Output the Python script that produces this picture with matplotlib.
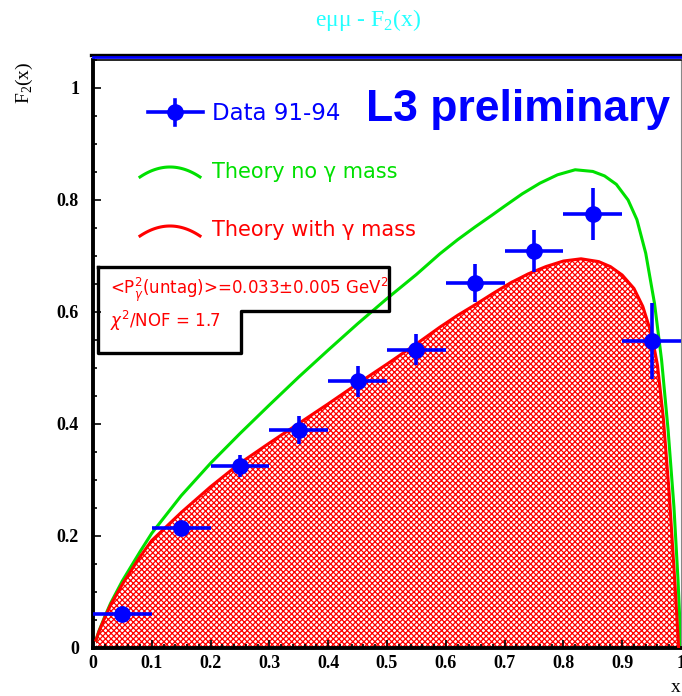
import numpy as np
import matplotlib.pyplot as plt
from matplotlib.lines import Line2D
from matplotlib.ticker import MultipleLocator

# measured F2 of the photon (1991-94 data)
x_bin = [0.05, 0.15, 0.25, 0.35, 0.45, 0.55, 0.65, 0.75, 0.85, 0.95]
x_halfwidth = [0.05, 0.05, 0.05, 0.05, 0.05, 0.05, 0.05, 0.05, 0.05, 0.05]
f2_data = [0.061, 0.214, 0.325, 0.390, 0.476, 0.533, 0.652, 0.709, 0.775, 0.548]
f2_err = [0.008, 0.012, 0.020, 0.025, 0.027, 0.028, 0.034, 0.037, 0.046, 0.068]

# QED prediction, massless target photon
x_nomass = [0.005, 0.01, 0.02, 0.03, 0.05, 0.08, 0.10, 0.15, 0.20, 0.25, 0.30,
            0.35, 0.40, 0.45, 0.50, 0.55, 0.59, 0.62, 0.65, 0.68, 0.70, 0.73,
            0.76, 0.79, 0.82, 0.85, 0.87, 0.89, 0.91, 0.925, 0.94, 0.955, 0.967,
            0.978, 0.988, 0.995, 1.0]
f2_nomass = [0.014, 0.030, 0.056, 0.080, 0.120, 0.172, 0.205, 0.272, 0.330, 0.383,
             0.434, 0.484, 0.532, 0.579, 0.624, 0.667, 0.704, 0.729, 0.752, 0.774,
             0.789, 0.811, 0.830, 0.845, 0.854, 0.851, 0.843, 0.828, 0.800, 0.765,
             0.705, 0.615, 0.514, 0.390, 0.252, 0.120, 0.0]

# QED prediction including the target photon virtuality
x_mass = [0.005, 0.01, 0.02, 0.03, 0.05, 0.08, 0.10, 0.15, 0.20, 0.25, 0.30,
          0.35, 0.40, 0.45, 0.50, 0.55, 0.59, 0.62, 0.65, 0.68, 0.71, 0.74,
          0.77, 0.80, 0.83, 0.86, 0.88, 0.90, 0.92, 0.935, 0.95, 0.96, 0.97,
          0.98, 0.99, 0.996]
f2_mass = [0.014, 0.029, 0.054, 0.077, 0.114, 0.163, 0.192, 0.242, 0.288, 0.330,
           0.366, 0.401, 0.436, 0.472, 0.507, 0.543, 0.573, 0.594, 0.613, 0.633,
           0.652, 0.668, 0.681, 0.691, 0.695, 0.690, 0.681, 0.666, 0.642, 0.610,
           0.560, 0.505, 0.410, 0.275, 0.110, 0.0]

x_ticks = [0, 0.1, 0.2, 0.3, 0.4, 0.5, 0.6, 0.7, 0.8, 0.9, 1.0]
x_ticklabels = ['0', '0.1', '0.2', '0.3', '0.4', '0.5', '0.6', '0.7', '0.8', '0.9', '1']
y_ticks = [0, 0.2, 0.4, 0.6, 0.8, 1.0]
y_ticklabels = ['0', '0.2', '0.4', '0.6', '0.8', '1']

W, H = 682, 696
plt.rcParams['hatch.linewidth'] = 0.9
plt.rcParams['mathtext.fontset'] = 'custom'
plt.rcParams['mathtext.rm'] = 'Liberation Serif'
plt.rcParams['mathtext.sf'] = 'DejaVu Sans'
plt.rcParams['mathtext.it'] = 'DejaVu Sans:italic'

fig = plt.figure(figsize=(W / 100, H / 100), dpi=100)
ax = fig.add_axes([93 / W, 48 / H, 588 / W, 588 / H])


def axfrac(px, py):
    # pixel position on the canvas -> axes fraction
    return (px - 93) / 588, (648 - py) / 588


# hatched band under the massive-photon curve
ax.fill_between(x_mass, 0, f2_mass, facecolor='white', edgecolor='#ff0000',
                hatch='xxxxxx', linewidth=0, zorder=1)
ax.plot(x_mass, f2_mass, color='#ff0000', lw=2.2, zorder=3)
ax.plot(x_nomass, f2_nomass, color='#00e000', lw=2.2, zorder=2)

ax.errorbar(x_bin, f2_data, xerr=x_halfwidth, yerr=f2_err, fmt='o',
            color='#0000ff', ms=11, elinewidth=2.6, capsize=0, zorder=5,
            clip_on=False)

# axes styling
for side in ['left', 'bottom']:
    ax.spines[side].set_linewidth(2.8)
ax.spines['top'].set_linewidth(1.2)
ax.spines['right'].set_linewidth(0.8)
ax.spines['right'].set_color('#888888')

ax.set_xticks(x_ticks)
ax.set_xticklabels(x_ticklabels)
ax.set_yticks(y_ticks)
ax.set_yticklabels(y_ticklabels)
ax.xaxis.set_minor_locator(MultipleLocator(0.02))
ax.yaxis.set_minor_locator(MultipleLocator(0.05))
ax.set_xlim(0, 1)
ax.set_ylim(0, 1.05)
ax.tick_params(which='both', direction='in', top=False, right=False, width=1.2)
ax.tick_params(which='major', length=6)
ax.tick_params(which='minor', length=3)
ax.tick_params(axis='y', pad=10)
ax.tick_params(axis='x', pad=5)
for lab in ax.get_xticklabels() + ax.get_yticklabels():
    lab.set_fontfamily('Liberation Serif')
    lab.set_fontweight('bold')
    lab.set_fontsize(13)

# double frame line along the top
fig.add_artist(Line2D([91 / W, 1], [1 - 54.5 / H, 1 - 54.5 / H], color='black', lw=2.4))
fig.add_artist(Line2D([93 / W, 1], [1 - 57.3 / H, 1 - 57.3 / H], color='#0000ff', lw=2.0))

# titles
fig.text(368 / W, 1 - 20 / H, r'eμμ - F$_\mathrm{2}$(x)', color='#22ffff', fontsize=17,
         family='Liberation Serif', ha='center', va='center')
fig.text(24 / W, 1 - 83 / H, r'F$_\mathrm{2}$(x)', rotation=90, fontsize=14,
         family='Liberation Serif', ha='center', va='center')
fig.text(676 / W, 1 - 688 / H, 'x', fontsize=14, family='Liberation Serif',
         ha='center', va='center')

# legend, drawn by hand
tr = ax.transAxes
mx, my = axfrac(175, 112)
ax.plot([axfrac(148, 0)[0], axfrac(203, 0)[0]], [my, my], color='#0000ff', lw=2.6,
        transform=tr, clip_on=False)
ax.plot([mx, mx], [axfrac(0, 100)[1], axfrac(0, 125)[1]], color='#0000ff', lw=2.6,
        transform=tr, clip_on=False)
ax.plot([mx], [my], 'o', color='#0000ff', ms=11, transform=tr, clip_on=False)
ax.text(*axfrac(212, 113), 'Data 91-94', color='#0000ff', fontsize=16.5,
        transform=tr, va='center', ha='left')
ax.text(*axfrac(366, 109), 'L3 preliminary', color='#0000ff', fontsize=32,
        family='Liberation Sans', fontweight='bold', transform=tr,
        va='center', ha='left')

t = np.linspace(-1, 1, 30)
for y_end, col, label, y_txt in [(177, '#00e000', 'Theory no γ mass', 172),
                                 (236, '#ff0000', 'Theory with γ mass', 230)]:
    arc_x = [axfrac(170 + 30 * v, 0)[0] for v in t]
    arc_y = [axfrac(0, y_end - 10 * (1 - v * v))[1] for v in t]
    ax.plot(arc_x, arc_y, color=col, lw=2.2, transform=tr, clip_on=False)
    ax.text(*axfrac(212, y_txt), label, color=col, fontsize=15,
            transform=tr, va='center', ha='left')

# notched box with the fit result
box = [(98, 267), (389, 267), (389, 311), (241, 311), (241, 353), (98, 353), (98, 267)]
bx, by = zip(*[axfrac(px, py) for px, py in box])
ax.plot(bx, by, color='black', lw=2.4, transform=tr, zorder=6)
ax.text(*axfrac(110, 290), r'<P$^\mathsf{2}_\gamma$(untag)>=0.033±0.005 GeV$^\mathsf{2}$',
        color='#ff0000', fontsize=12, transform=tr, va='center', ha='left', zorder=7)
ax.text(*axfrac(110, 321), r'$\chi^\mathsf{2}$/NOF = 1.7', color='#ff0000', fontsize=12,
        transform=tr, va='center', ha='left', zorder=7)

fig.savefig('out.png', dpi=100)
